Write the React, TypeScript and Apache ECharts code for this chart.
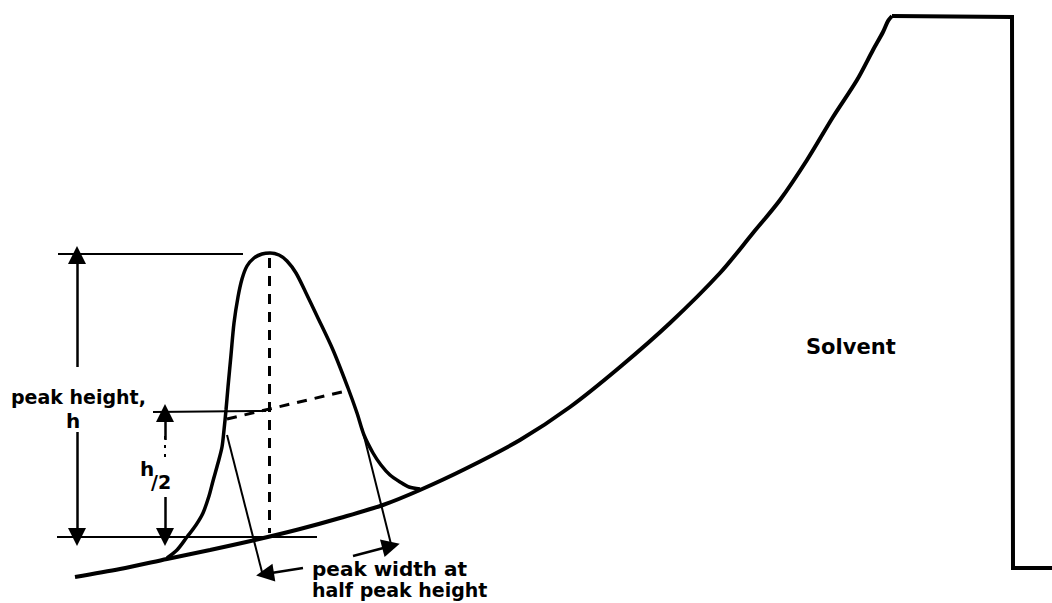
import React, { useEffect, useRef } from "react";
import * as echarts from "echarts";

// Diagram coordinates (x to the right, y downward, in diagram units)
const baselineCurve: number[][] = [
  [75, 577], [120, 569], [167, 559], [210, 550], [255, 540], [300, 529], [340, 518],
  [383, 505], [420, 490], [465, 469], [520, 440], [570, 407], [620, 367], [670, 323],
  [720, 273], [753, 233], [780, 200], [807, 160], [833, 117], [857, 80], [873, 50],
  [883, 32], [888, 21], [892, 16],
];

const peakCurve: number[][] = [
  [167, 558], [177, 550], [187, 537], [196, 525], [203, 513], [209, 496], [213, 481],
  [218, 463], [222, 447], [224, 430], [226, 410], [228, 387], [231, 355], [234, 323],
  [238, 297], [242, 279], [247, 266], [254, 258], [262, 254], [270, 253], [279, 255],
  [287, 261], [296, 273], [306, 293], [317, 316], [333, 350], [348, 388], [357, 413],
  [364, 435], [373, 453], [381, 465], [390, 475], [400, 482], [409, 487], [420, 489],
];

const solventBox: number[][] = [
  [892, 16], [1012, 17], [1013, 568], [1052, 568],
];

// reference segments [from, to]
const solidGuides: number[][][] = [
  [[58, 254], [243, 254]],     // peak top level
  [[57, 537], [317, 537]],     // baseline level
  [[153, 412], [266, 411]],    // half height level
  [[227, 435], [263, 576]],    // left width projection
  [[263, 576], [270, 575]],
  [[362, 428], [392, 548]],    // right width projection
];

const dashedGuides: number[][][] = [
  [[269, 258], [269, 533]],    // peak apex drop
  [[227, 419], [350, 390]],    // half-height chord
];

const dashDotGuides: number[][][] = [
  [[165, 436], [165, 462]],
];

const arrows: number[][][] = [
  [[77, 367], [77, 255]],
  [[77, 432], [77, 537]],
  [[165, 440], [165, 413]],
  [[165, 497], [165, 537]],
  [[303, 568], [265, 574]],
  [[353, 556], [391, 546]],
];

export default function App() {
  const ref = useRef<HTMLDivElement>(null);
  useEffect(() => {
    document.body.style.margin = "0";
    const chart = echarts.init(ref.current!, null, { renderer: "svg" });
    const font = "DejaVu Sans";
    const txt = (text: string, x: number, y: number, size: number) => ({
      type: "text",
      x,
      y,
      style: {
        text,
        fontFamily: font,
        fontWeight: "bold",
        fontSize: size,
        fill: "#000",
        verticalAlign: "middle",
      },
    });
    chart.setOption({
      animation: false,
      backgroundColor: "#fff",
      grid: { left: 0, right: 0, top: 0, bottom: 0 },
      xAxis: { type: "value", min: 0, max: 1052, show: false },
      yAxis: { type: "value", min: 0, max: 603, inverse: true, show: false },
      series: [
        {
          type: "line",
          data: baselineCurve,
          smooth: 0.3,
          showSymbol: false,
          lineStyle: { color: "#000", width: 4 },
        },
        {
          type: "line",
          data: peakCurve,
          smooth: 0.3,
          showSymbol: false,
          lineStyle: { color: "#000", width: 3.5 },
        },
        {
          type: "line",
          data: solventBox,
          showSymbol: false,
          lineStyle: { color: "#000", width: 4, join: "miter" },
        },
        {
          type: "lines",
          coordinateSystem: "cartesian2d",
          data: solidGuides.map((c) => ({ coords: c })),
          lineStyle: { color: "#000", width: 2, opacity: 1 },
          symbol: "none",
        },
        {
          type: "lines",
          coordinateSystem: "cartesian2d",
          data: dashedGuides.map((c) => ({ coords: c })),
          lineStyle: { color: "#000", width: 3, type: [10, 8], opacity: 1 },
          symbol: "none",
        },
        {
          type: "lines",
          coordinateSystem: "cartesian2d",
          data: dashDotGuides.map((c) => ({ coords: c })),
          lineStyle: { color: "#000", width: 2, type: [3, 6], opacity: 1 },
          symbol: "none",
        },
        {
          type: "lines",
          coordinateSystem: "cartesian2d",
          data: arrows.map((c) => ({ coords: c })),
          lineStyle: { color: "#000", width: 2.5, opacity: 1 },
          symbol: ["none", "triangle"],
          symbolSize: [9, 18],
        },
      ],
      graphic: [
        txt("peak height,", 11, 397, 19),
        txt("h", 66, 421, 20),
        txt("h", 140, 469, 20),
        txt("/2", 151, 482, 19),
        txt("peak width at", 312, 569, 20),
        txt("half peak height", 312, 590, 19),
        txt("Solvent", 806, 347, 21),
      ],
    });
    return () => chart.dispose();
  }, []);
  return <div ref={ref} style={{ width: 1052, height: 603 }} />;
}
